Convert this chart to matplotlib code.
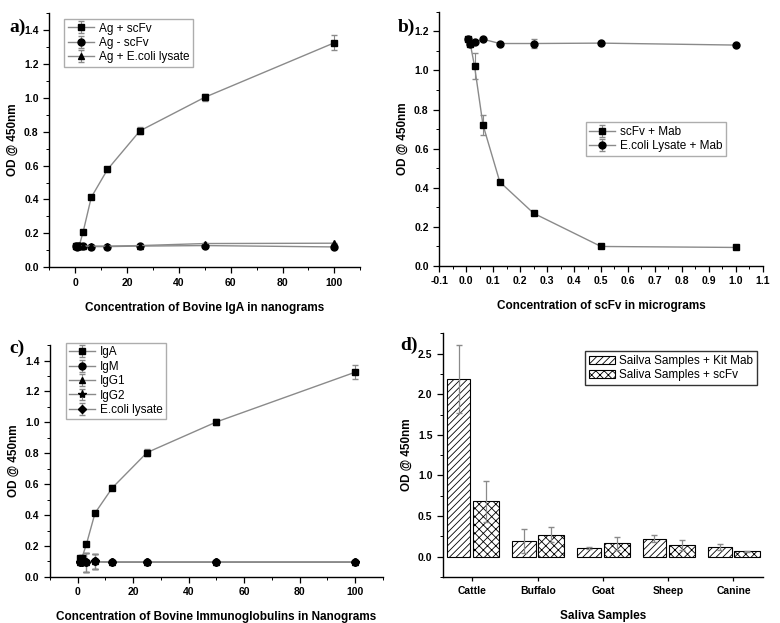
import matplotlib.pyplot as plt
import numpy as np
from matplotlib.ticker import MultipleLocator

plt.rcParams["font.family"] = ["Liberation Sans", "DejaVu Sans"]
plt.rcParams["hatch.linewidth"] = 0.6
plt.rcParams["axes.unicode_minus"] = False

# panel a
conc_ng = [0.39, 0.78, 1.56, 3.125, 6.25, 12.5, 25, 50, 100]
ag_scfv = [0.125, 0.125, 0.125, 0.21, 0.413, 0.577, 0.805, 1.003, 1.325]
ag_scfv_err = [0.005, 0.005, 0.005, 0.01, 0.01, 0.015, 0.02, 0.02, 0.045]
ag_minus = [0.125, 0.122, 0.125, 0.125, 0.122, 0.122, 0.125, 0.128, 0.12]
ag_ecoli = [0.125, 0.125, 0.125, 0.125, 0.125, 0.125, 0.128, 0.14, 0.142]

# panel b
conc_ug = [0.0078, 0.0156, 0.03125, 0.0625, 0.125, 0.25, 0.5, 1.0]
scfv_mab = [1.16, 1.135, 1.022, 0.722, 0.43, 0.27, 0.1, 0.095]
scfv_mab_err = [0.01, 0.01, 0.065, 0.05, 0.01, 0.01, 0.005, 0.005]
ecoli_mab = [1.16, 1.135, 1.145, 1.16, 1.138, 1.138, 1.14, 1.13]
ecoli_mab_err = [0.005, 0.005, 0.005, 0.005, 0.005, 0.025, 0.005, 0.005]

# panel c
conc_ig = [0.78, 1.56, 3.125, 6.25, 12.5, 25, 50, 100]
iga = [0.125, 0.125, 0.21, 0.413, 0.577, 0.805, 1.003, 1.325]
iga_err = [0.005, 0.005, 0.01, 0.01, 0.015, 0.02, 0.02, 0.045]
igm = [0.095, 0.095, 0.095, 0.1, 0.095, 0.095, 0.095, 0.095]
igg1 = [0.095, 0.1, 0.095, 0.1, 0.095, 0.095, 0.095, 0.095]
igg2 = [0.095, 0.095, 0.095, 0.1, 0.095, 0.095, 0.095, 0.095]
ecoli_ig = [0.095, 0.095, 0.095, 0.1, 0.095, 0.095, 0.095, 0.095]
low_err = [0.005, 0.005, 0.062, 0.05, 0.005, 0.005, 0.005, 0.005]

# panel d
animals = ["Cattle", "Buffalo", "Goat", "Sheep", "Canine"]
kit_mab = [2.19, 0.19, 0.105, 0.22, 0.12]
kit_mab_err = [0.42, 0.15, 0.015, 0.04, 0.035]
saliva_scfv = [0.68, 0.27, 0.165, 0.145, 0.065]
saliva_scfv_err = [0.25, 0.09, 0.08, 0.06, 0.01]

LINE = "#8a8a8a"


def style_axes(ax):
    for side in ("top", "right"):
        ax.spines[side].set_visible(False)
    for side in ("left", "bottom"):
        ax.spines[side].set_linewidth(1.0)
    ax.tick_params(which="major", direction="out", length=4,
                   labelsize=7.5, width=0.9)
    ax.tick_params(which="minor", direction="out", length=2, width=0.7)
    for lbl in ax.get_xticklabels() + ax.get_yticklabels():
        lbl.set_fontweight("bold")


def series(ax, x, y, err, marker, label, ms=5):
    ax.errorbar(x, y, yerr=err, color=LINE, lw=1.0, ecolor=LINE,
                elinewidth=0.8, capsize=2, marker=marker, ms=ms,
                mfc="black", mec="black", label=label)


def add_legend(ax, **kw):
    ax.legend(fontsize=8.5, fancybox=False, edgecolor="#999999",
              handlelength=2.2, borderpad=0.3, labelspacing=0.2,
              handletextpad=0.4, **kw)


fig = plt.figure(figsize=(7.8, 6.23), dpi=100)

ax_a = fig.add_axes([0.063, 0.571, 0.399, 0.408])
ax_b = fig.add_axes([0.563, 0.573, 0.415, 0.408])
ax_c = fig.add_axes([0.064, 0.074, 0.427, 0.372])
ax_d = fig.add_axes([0.568, 0.074, 0.410, 0.391])

# a)
series(ax_a, conc_ng, ag_scfv, ag_scfv_err, "s", "Ag + scFv")
series(ax_a, conc_ng, ag_minus, 0.004, "o", "Ag - scFv")
series(ax_a, conc_ng, ag_ecoli, 0.004, "^", "Ag + E.coli lysate")
ax_a.set_xlim(-10, 110)
ax_a.set_ylim(0, 1.5)
ax_a.xaxis.set_major_locator(MultipleLocator(20))
ax_a.xaxis.set_minor_locator(MultipleLocator(10))
ax_a.yaxis.set_major_locator(MultipleLocator(0.2))
ax_a.yaxis.set_minor_locator(MultipleLocator(0.1))
ax_a.set_xlabel("Concentration of Bovine IgA in nanograms",
                fontsize=8.5, fontweight="bold", labelpad=10)
ax_a.set_ylabel("OD @ 450nm", fontsize=8.5, fontweight="bold")
add_legend(ax_a, loc="upper left", bbox_to_anchor=(0.03, 1.0))
style_axes(ax_a)

# b)
series(ax_b, conc_ug, scfv_mab, scfv_mab_err, "s", "scFv + Mab")
series(ax_b, conc_ug, ecoli_mab, ecoli_mab_err, "o", "E.coli Lysate + Mab")
ax_b.set_xlim(-0.1, 1.1)
ax_b.set_ylim(0, 1.3)
ax_b.xaxis.set_minor_locator(MultipleLocator(0.05))
ax_b.yaxis.set_major_locator(MultipleLocator(0.2))
ax_b.yaxis.set_minor_locator(MultipleLocator(0.1))
ax_b.set_xticks(np.round(np.arange(-0.1, 1.11, 0.1), 1))
ax_b.set_xlabel("Concentration of scFv in micrograms",
                fontsize=8.5, fontweight="bold", labelpad=10)
ax_b.set_ylabel("OD @ 450nm", fontsize=8.5, fontweight="bold")
add_legend(ax_b, loc="center right", bbox_to_anchor=(0.905, 0.5))
style_axes(ax_b)

# c)
series(ax_c, conc_ig, iga, iga_err, "s", "IgA")
series(ax_c, conc_ig, igm, low_err, "o", "IgM")
series(ax_c, conc_ig, igg1, low_err, "^", "IgG1")
series(ax_c, conc_ig, igg2, low_err, "*", "IgG2", ms=6)
series(ax_c, conc_ig, ecoli_ig, low_err, "D", "E.coli lysate", ms=4.5)
ax_c.set_xlim(-10, 110)
ax_c.set_ylim(0, 1.5)
ax_c.xaxis.set_major_locator(MultipleLocator(20))
ax_c.xaxis.set_minor_locator(MultipleLocator(10))
ax_c.yaxis.set_major_locator(MultipleLocator(0.2))
ax_c.yaxis.set_minor_locator(MultipleLocator(0.1))
ax_c.set_xlabel("Concentration of Bovine Immunoglobulins in Nanograms",
                fontsize=8.5, fontweight="bold", labelpad=10)
ax_c.set_ylabel("OD @ 450nm", fontsize=8.5, fontweight="bold")
add_legend(ax_c, loc="upper left", bbox_to_anchor=(0.03, 1.035))
style_axes(ax_c)

# d)
pos = np.arange(len(animals))
ax_d.bar(pos - 0.21, kit_mab, width=0.36, color="white", edgecolor="black",
         lw=0.8, hatch="/////", label="Sailva Samples + Kit Mab")
ax_d.bar(pos + 0.21, saliva_scfv, width=0.40, color="white", edgecolor="black",
         lw=0.8, hatch="xxxx", label="Saliva Samples + scFv")
ax_d.errorbar(pos - 0.21, kit_mab, yerr=kit_mab_err, fmt="none",
              ecolor=LINE, elinewidth=0.9, capsize=2)
ax_d.errorbar(pos + 0.21, saliva_scfv, yerr=saliva_scfv_err, fmt="none",
              ecolor=LINE, elinewidth=0.9, capsize=2)
ax_d.set_xlim(-0.45, 4.45)
ax_d.set_ylim(-0.25, 2.75)
ax_d.set_xticks(pos)
ax_d.set_xticklabels(animals)
ax_d.yaxis.set_major_locator(MultipleLocator(0.5))
ax_d.yaxis.set_minor_locator(MultipleLocator(0.25))
ax_d.set_xlabel("Saliva Samples", fontsize=8.5, fontweight="bold", labelpad=10)
ax_d.set_ylabel("OD @ 450nm", fontsize=8.5, fontweight="bold")
ax_d.legend(loc="upper right", bbox_to_anchor=(1.0, 0.95), fontsize=8.5,
            fancybox=False, edgecolor="black", handlelength=2.2,
            borderpad=0.3, labelspacing=0.2, handletextpad=0.4)
style_axes(ax_d)
ax_d.tick_params(axis="x", which="major", length=3)

for label, x, y in [("a)", 0.012, 0.97), ("b)", 0.51, 0.97),
                    ("c)", 0.012, 0.455), ("d)", 0.513, 0.46)]:
    fig.text(x, y, label, fontsize=14, fontweight="bold",
             family=["Liberation Serif", "DejaVu Serif"], va="top")

fig.savefig("out.png", dpi=100)
plt.close(fig)
